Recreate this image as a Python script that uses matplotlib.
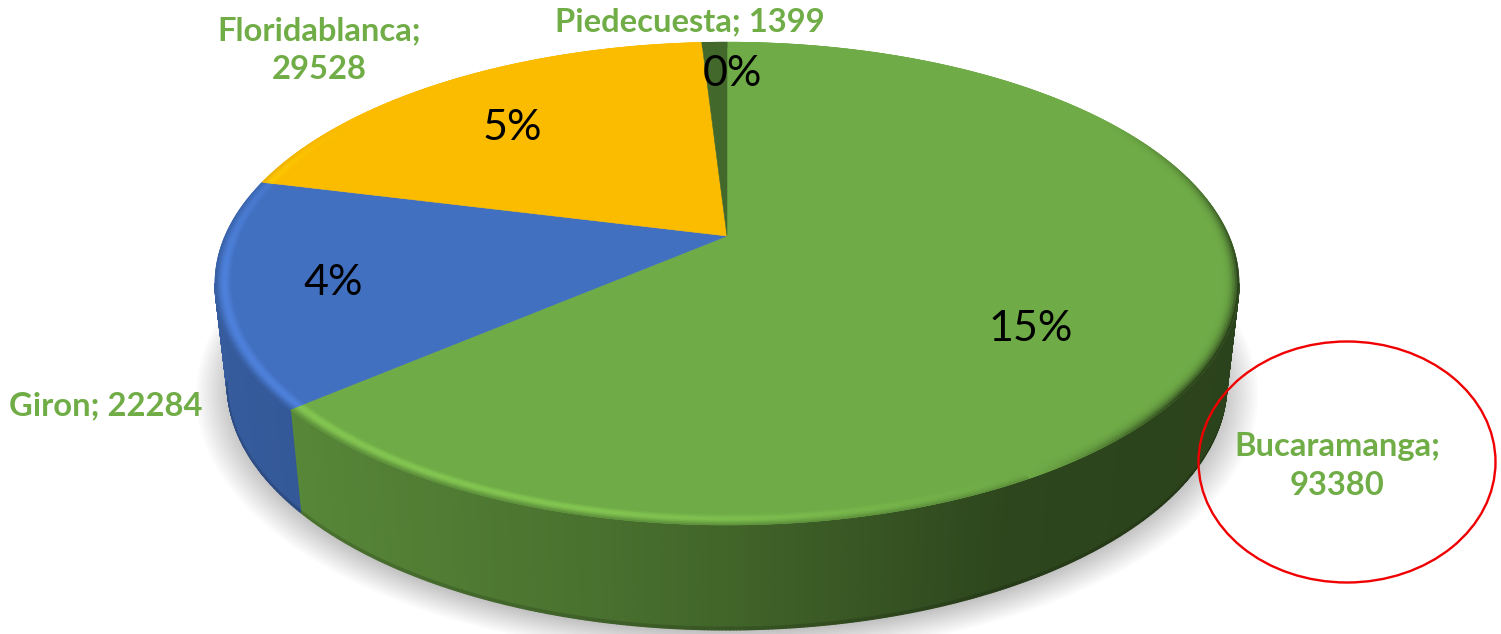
import numpy as np
import matplotlib
matplotlib.use("Agg")
import matplotlib.pyplot as plt
from matplotlib.collections import PolyCollection
from matplotlib.colors import to_rgb
from matplotlib.patches import Ellipse, Polygon

plt.rcParams['font.family'] = ['Lato', 'DejaVu Sans']

# ---- data (clockwise from 12 o'clock) ----
names = ["Bucaramanga", "Giron", "Floridablanca", "Piedecuesta"]
values = [93380, 22284, 29528, 1399]
pct_labels = ["15%", "4%", "5%", "0%"]
colors = ["#6FAB47", "#4270C0", "#FBBC00", "#43682B"]

# ---- layout ----
W, H = 1501, 634
CX = 727
TOP = dict(y0=236.0, b=232.0, R=502.0)
BOT = dict(y0=336.0, b=236.0, R=490.0)
K = 0.197
LABEL_GREEN = "#70AD47"

fig = plt.figure(figsize=(W / 100, H / 100), dpi=100, facecolor="white")
ax = fig.add_axes([0, 0, 1, 1])
ax.set_xlim(0, W)
ax.set_ylim(H, 0)
ax.axis("off")


def project(theta_deg, r=1.0, ring=TOP):
    """Angle clockwise from top -> picture position on a perspective disc."""
    t = np.radians(theta_deg)
    x = r * np.sin(t)
    u = -r * np.cos(t)
    d = 1 - K * u
    return CX + ring["R"] * x / d, ring["y0"] + ring["b"] * u / d


def mix(c, target, a):
    c = np.asarray(c)
    return tuple(c + (np.asarray(target) - c) * a)


vals = np.array(values, dtype=float)
edges = np.concatenate([[0], np.cumsum(vals) / vals.sum() * 360])

# ---- soft shadow ----
for i, grow in enumerate(np.linspace(1.06, 0.99, 16)):
    th = np.linspace(0, 360, 361)
    xs, ys = project(th, grow, BOT)
    ax.add_patch(Polygon(np.c_[xs, ys + 5], closed=True, fc="#000000", ec="none",
                         alpha=0.014, zorder=1))

# ---- side wall ----
lim_lo = np.degrees(np.arccos(-K))
lim_hi = 360 - lim_lo
polys, cols = [], []
shade_x = [-1.0, -0.25, 0.1, 0.55, 1.0]
shade_f = [0.82, 0.66, 0.56, 0.41, 0.39]
for s, (a0, a1) in enumerate(zip(edges[:-1], edges[1:])):
    lo, hi = max(a0, lim_lo), min(a1, lim_hi)
    if hi <= lo:
        continue
    base = np.array(to_rgb(colors[s]))
    th = np.linspace(lo, hi, max(int((hi - lo) * 3), 2))
    tx, ty = project(th, 1.0, TOP)
    bx, by = project(th, 1.0, BOT)
    for j in range(len(th) - 1):
        f = np.interp((tx[j] - CX) / 512.0, shade_x, shade_f)
        col = base * f
        for v0, v1, g in [(0, 0.975, 1.0), (0.975, 1.0, 0.85)]:
            q = [
                (tx[j] + (bx[j] - tx[j]) * v0, ty[j] + (by[j] - ty[j]) * v0),
                (tx[j + 1] + (bx[j + 1] - tx[j + 1]) * v0, ty[j + 1] + (by[j + 1] - ty[j + 1]) * v0),
                (tx[j + 1] + (bx[j + 1] - tx[j + 1]) * v1, ty[j + 1] + (by[j + 1] - ty[j + 1]) * v1),
                (tx[j] + (bx[j] - tx[j]) * v1, ty[j] + (by[j] - ty[j]) * v1),
            ]
            polys.append(q)
            cols.append(tuple(col * g))
ax.add_collection(PolyCollection(polys, facecolors=cols, edgecolors=cols, linewidths=0.9, zorder=2))

# ---- top faces ----
for s, (a0, a1) in enumerate(zip(edges[:-1], edges[1:])):
    th = np.linspace(a0, a1, max(int(a1 - a0) * 2, 4))
    xs, ys = project(th)
    pts = np.vstack([[CX, TOP["y0"]], np.c_[xs, ys]])
    ax.add_patch(Polygon(pts, closed=True, fc=colors[s], ec=colors[s], lw=0.4, zorder=3))

# ---- bevel along the rim ----
polys, cols = [], []
rs = np.linspace(1.0, 0.965, 9)
for s, (a0, a1) in enumerate(zip(edges[:-1], edges[1:])):
    base = np.array(to_rgb(colors[s]))
    hi_col = np.minimum(base * np.array([1.2, 1.17, 1.16]), 1.0)
    th = np.linspace(a0, a1, max(int((a1 - a0) * 2), 3))
    for j in range(len(th) - 1):
        tm = 0.5 * (th[j] + th[j + 1])
        h = np.cos(np.radians(tm - 240))
        u = -np.cos(np.radians(tm))
        front = np.clip((u + 0.55) / 0.7, 0, 1)
        for i in range(len(rs) - 1):
            p = i / (len(rs) - 2)
            if h > 0:
                col = mix(base, hi_col, min(h * 1.5, 1) * np.sin(np.pi * p) ** 1.5 * front)
                col = mix(col, base * 0.8, (1 - p) ** 4 * 0.7 * front)
            else:
                col = mix(base, base * 0.4, min(-h * 2.5, 1) * (1 - p) ** 2.5 * front)
            x00, y00 = project(th[j], rs[i])
            x01, y01 = project(th[j + 1], rs[i])
            x11, y11 = project(th[j + 1], rs[i + 1])
            x10, y10 = project(th[j], rs[i + 1])
            polys.append([(x00, y00), (x01, y01), (x11, y11), (x10, y10)])
            cols.append(col)
ax.add_collection(PolyCollection(polys, facecolors=cols, edgecolors=cols, linewidths=0.5, zorder=4))

# ---- percent labels ----
pct_pos = [(1031, 329), (333, 283), (512, 128), (732, 74)]
for lab, (x, y) in zip(pct_labels, pct_pos):
    ax.text(x, y, lab, fontsize=31, color="black", ha="center", va="center", zorder=6)

# ---- category labels ----
cat_pos = [(1337, 466), (106, 406), (319, 50), (690, 22)]
cat_text = [
    f"{names[0]};\n{values[0]}",
    f"{names[1]}; {values[1]}",
    f"{names[2]};\n{values[2]}",
    f"{names[3]}; {values[3]}",
]
for lab, (x, y) in zip(cat_text, cat_pos):
    ax.text(x, y, lab, fontsize=23.6, fontweight="bold", color=LABEL_GREEN,
            ha="center", va="center", linespacing=1.42, zorder=6)

# ---- red annotation ring ----
ax.add_patch(Ellipse((1347, 462), 297, 241, fc="none", ec="#F00000", lw=1.7, zorder=7))

fig.savefig("out.png", dpi=100, facecolor="white")
